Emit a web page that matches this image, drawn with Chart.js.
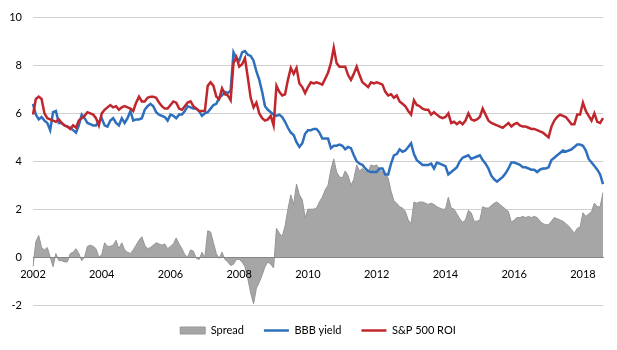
<!DOCTYPE html>
<html>
<head>
<meta charset="utf-8">
<script src="https://cdn.jsdelivr.net/npm/chart.js@4/dist/chart.umd.min.js"></script>
<style>
  body { margin: 0; background: #fff; }
  #wrap { width: 617px; height: 350px; }
</style>
</head>
<body>
<div id="wrap"><canvas id="chartSpread" width="617" height="350"></canvas></div>
<script>
// monthly data, Jan 2002 .. Aug 2018
const startYear = 2002;

const bbbYield = [
  6.4, 5.95, 5.75, 5.85, 5.7, 5.6, 5.3, 6.05, 6.1, 5.6, 5.6, 5.5,      // 2002
  5.45, 5.4, 5.3, 5.2, 5.5, 5.95, 5.8, 5.6, 5.55, 5.5, 5.5, 5.65,      // 2003
  5.8, 5.5, 5.45, 5.7, 5.8, 5.6, 5.5, 5.8, 5.6, 5.8, 6.1, 5.7,         // 2004
  5.75, 5.75, 5.8, 6.15, 6.3, 6.4, 6.3, 6.05, 5.95, 5.9, 5.85, 5.7,    // 2005
  5.95, 5.9, 5.8, 5.95, 5.95, 6.1, 6.3, 6.25, 6.2, 6.2, 6.1, 5.9,      // 2006
  6.0, 6.05, 6.2, 6.35, 6.4, 6.65, 6.75, 6.9, 6.85, 6.95, 8.55, 8.3,   // 2007
  8.2, 8.55, 8.6, 8.45, 8.4, 8.2, 7.75, 7.4, 6.9, 6.3, 6.15, 6.05,     // 2008
  5.95, 5.9, 5.95, 5.85, 5.65, 5.4, 5.2, 5.1, 4.8, 4.6, 4.75, 5.15,    // 2009
  5.3, 5.3, 5.35, 5.35, 5.2, 4.95, 4.95, 4.95, 4.55, 4.65, 4.65, 4.7,  // 2010
  4.65, 4.5, 4.6, 4.55, 4.25, 4.0, 3.9, 3.85, 3.7, 3.6, 3.55, 3.55,    // 2011
  3.55, 3.7, 3.7, 3.45, 3.45, 3.9, 4.25, 4.3, 4.5, 4.4, 4.45, 4.6,     // 2012
  4.75, 4.3, 4.05, 3.95, 3.85, 3.85, 3.85, 3.9, 3.7, 3.95, 3.9, 3.85,  // 2013
  3.8, 3.45, 3.55, 3.65, 3.75, 4.0, 4.15, 4.2, 4.25, 4.1, 4.15, 4.2,   // 2014
  4.25, 4.05, 3.9, 3.7, 3.4, 3.25, 3.15, 3.25, 3.35, 3.5, 3.7, 3.95,   // 2015
  3.95, 3.9, 3.85, 3.75, 3.75, 3.7, 3.65, 3.65, 3.55, 3.65, 3.7, 3.7,  // 2016
  3.75, 4.05, 4.15, 4.25, 4.35, 4.45, 4.4, 4.45, 4.5, 4.6, 4.7, 4.7,   // 2017
  4.65, 4.45, 4.1, 3.95, 3.8, 3.65, 3.45, 3.05                         // 2018
];

const spxRoi = [
  5.95, 6.6, 6.7, 6.6, 6.0, 5.8, 5.75, 5.7, 5.65, 5.75, 5.6, 5.5,      // 2002
  5.45, 5.35, 5.5, 5.4, 5.7, 5.8, 5.9, 6.05, 6.0, 5.95, 5.8, 5.5,      // 2003
  6.0, 6.15, 6.25, 6.35, 6.25, 6.3, 6.15, 6.25, 6.3, 6.25, 6.2, 6.1,   // 2004
  6.45, 6.7, 6.5, 6.5, 6.65, 6.7, 6.7, 6.65, 6.45, 6.3, 6.2, 6.2,      // 2005
  6.35, 6.5, 6.45, 6.2, 6.15, 6.3, 6.45, 6.5, 6.3, 6.2, 6.1, 6.1,      // 2006
  6.1, 7.15, 7.3, 7.15, 6.7, 6.6, 7.05, 6.8, 6.75, 6.55, 8.1, 8.35,    // 2007
  7.95, 8.05, 8.3, 7.5, 6.65, 6.25, 6.45, 6.0, 5.8, 5.7, 5.75, 5.9,    // 2008
  5.5, 7.15, 6.9, 6.75, 6.8, 7.4, 7.9, 7.65, 7.9, 7.25, 7.1, 6.85,     // 2009
  7.1, 7.3, 7.25, 7.3, 7.25, 7.2, 7.45, 7.7, 8.1, 8.75, 8.1, 7.95,     // 2010
  7.95, 7.95, 7.6, 7.4, 7.65, 7.95, 7.6, 7.3, 7.2, 7.1, 7.3, 7.25,     // 2011
  7.3, 7.25, 7.2, 6.9, 6.75, 6.8, 6.65, 6.75, 6.5, 6.4, 6.3, 6.1,      // 2012
  5.95, 6.55, 6.35, 6.3, 6.2, 6.15, 6.15, 5.95, 6.05, 5.95, 5.85, 5.8, // 2013
  5.85, 6.0, 5.6, 5.65, 5.55, 5.65, 5.55, 5.7, 6.0, 5.75, 5.7, 5.75,   // 2014
  5.85, 6.2, 5.95, 5.7, 5.6, 5.55, 5.5, 5.45, 5.4, 5.5, 5.6, 5.45,     // 2015
  5.55, 5.6, 5.5, 5.45, 5.45, 5.4, 5.35, 5.35, 5.3, 5.25, 5.2, 5.1,    // 2016
  5.0, 5.45, 5.7, 5.85, 5.95, 5.9, 5.85, 5.7, 5.55, 5.55, 5.95, 5.95,  // 2017
  6.45, 6.1, 5.9, 5.7, 6.0, 5.65, 5.6, 5.8                             // 2018
];

const spread = [
  -0.4, 0.65, 0.9, 0.4, 0.3, 0.4, 0.0, -0.4, 0.15, -0.15, -0.15, -0.2,     // 2002
  -0.2, 0.15, 0.2, 0.35, 0.15, -0.15, 0.0, 0.45, 0.5, 0.45, 0.35, 0.0,     // 2003
  0.1, 0.6, 0.45, 0.45, 0.5, 0.7, 0.35, 0.6, 0.3, 0.2, 0.15, 0.3,          // 2004
  0.5, 0.7, 0.85, 0.5, 0.35, 0.4, 0.5, 0.6, 0.55, 0.5, 0.55, 0.35,         // 2005
  0.45, 0.55, 0.8, 0.55, 0.35, 0.1, 0.0, 0.3, 0.25, -0.05, -0.1, 0.2,      // 2006
  0.0, 1.1, 1.05, 0.6, 0.15, -0.05, 0.2, -0.1, -0.2, -0.35, -0.3, -0.1,    // 2007
  -0.1, -0.2, -0.4, -0.9, -1.5, -1.95, -1.3, -1.05, -0.75, -0.4, -0.2, -0.3, // 2008
  -0.45, 1.2, 1.0, 0.85, 1.3, 2.0, 2.6, 2.2, 3.05, 2.6, 2.4, 1.65,         // 2009
  2.0, 2.0, 2.0, 2.05, 2.3, 2.5, 2.8, 3.0, 3.65, 4.1, 3.55, 3.35,          // 2010
  3.3, 3.6, 3.4, 3.0, 3.25, 3.85, 3.6, 3.7, 3.6, 3.55, 3.85, 3.8,          // 2011
  3.85, 3.65, 3.55, 3.5, 3.3, 2.75, 2.35, 2.25, 2.1, 2.05, 1.9, 1.55,      // 2012
  1.4, 2.3, 2.25, 2.3, 2.3, 2.25, 2.2, 2.25, 2.2, 2.1, 2.05, 2.0,          // 2013
  2.0, 2.5, 2.05, 2.0, 1.8, 1.6, 1.45, 1.55, 1.95, 1.85, 1.5, 1.5,         // 2014
  1.55, 2.1, 2.05, 2.05, 2.15, 2.25, 2.3, 2.2, 2.1, 2.0, 1.9, 1.45,        // 2015
  1.55, 1.65, 1.65, 1.7, 1.65, 1.7, 1.65, 1.7, 1.65, 1.5, 1.4, 1.35,       // 2016
  1.35, 1.5, 1.65, 1.6, 1.55, 1.5, 1.4, 1.3, 1.15, 1.0, 1.2, 1.25,         // 2017
  1.85, 1.7, 1.8, 1.9, 2.25, 2.1, 2.1, 2.7                                 // 2018
];

// one label per month, e.g. "2002-01"
const months = spread.map((v, i) => {
  const y = startYear + Math.floor(i / 12);
  const m = (i % 12) + 1;
  return y + '-' + (m < 10 ? '0' + m : m);
});

const fontFam = 'Lato, "Liberation Sans", sans-serif';

new Chart(document.getElementById('chartSpread').getContext('2d'), {
  type: 'line',
  data: {
    labels: months,
    datasets: [
      {
        label: 'Spread',
        data: spread,
        fill: 'origin',
        backgroundColor: '#a6a6a6',
        borderColor: '#969696',
        borderWidth: 1,
        pointRadius: 0,
        pointStyle: 'rect',
        tension: 0,
        order: 2
      },
      {
        label: 'BBB yield',
        data: bbbYield,
        fill: false,
        borderColor: '#2e6fbd',
        backgroundColor: '#2e6fbd',
        borderWidth: 2.5,
        pointRadius: 0,
        pointStyle: 'line',
        tension: 0,
        order: 1
      },
      {
        label: 'S&P 500 ROI',
        data: spxRoi,
        fill: false,
        borderColor: '#c0272d',
        backgroundColor: '#c0272d',
        borderWidth: 2.5,
        pointRadius: 0,
        pointStyle: 'line',
        tension: 0,
        order: 0
      }
    ]
  },
  options: {
    responsive: false,
    animation: false,
    layout: { padding: { left: 7, right: 14, top: 14, bottom: 4 } },
    scales: {
      x: {
        position: { y: 0 },
        grid: { display: false },
        border: { display: true, color: '#868686', width: 1, z: 1 },
        ticks: {
          z: 1, // labels drawn over the grey area
          autoSkip: false,
          maxRotation: 0,
          color: '#000',
          font: { family: fontFam, size: 11 },
          callback: (val, idx) => idx % 24 === 0 ? String(startYear + idx / 12) : null
        }
      },
      y: {
        min: -2,
        max: 10,
        afterFit: s => { s.width = 26; },
        grid: { color: '#d0d0d0', drawTicks: false },
        border: { display: false },
        ticks: {
          stepSize: 2,
          padding: 11,
          color: '#000',
          font: { family: fontFam, size: 11 }
        }
      }
    },
    plugins: {
      tooltip: { enabled: false },
      legend: {
        position: 'bottom',
        fullSize: false,
        labels: {
          usePointStyle: true,
          pointStyleWidth: 25,
          boxHeight: 7,
          padding: 20,
          color: '#000',
          font: { family: fontFam, size: 11 },
          sort: (a, b) => a.datasetIndex - b.datasetIndex
        }
      }
    }
  }
});
</script>
</body>
</html>
